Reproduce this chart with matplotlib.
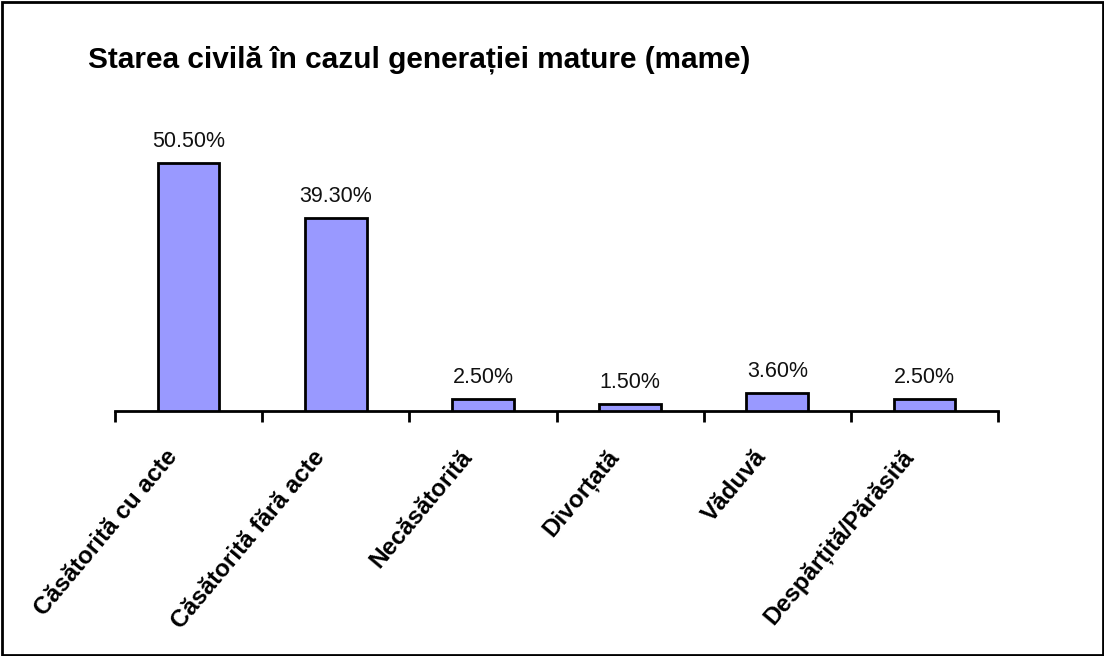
import matplotlib
matplotlib.use("Agg")
import matplotlib.pyplot as plt
from matplotlib.patches import Rectangle
import matplotlib.transforms as mtransforms

categories = ["Căsătorită cu acte", "Căsătorită fără acte", "Necăsătorită",
              "Divorțată", "Văduvă", "Despărțită/Părăsită"]
values = [50.5, 39.3, 2.5, 1.5, 3.6, 2.5]
value_labels = ["50.50%", "39.30%", "2.50%", "1.50%", "3.60%", "2.50%"]
title = "Starea civilă în cazul generației mature (mame)"

plt.rcParams['font.family'] = ['Liberation Sans', 'DejaVu Sans']

W, H = 1104, 656
fig = plt.figure(figsize=(W / 100, H / 100), dpi=100)
fig.patch.set_facecolor("white")

# figure border
fig.add_artist(Rectangle((1.5 / W, 1.5 / H), (W - 3) / W, (H - 3) / H,
                         transform=fig.transFigure, fill=False,
                         edgecolor="black", linewidth=2))

ax_left, ax_right = 115 / W, 998 / W
ax_bottom_px, ax_top_px = 411, 100
ax = fig.add_axes([ax_left, (H - ax_bottom_px) / H, ax_right - ax_left,
                   (ax_bottom_px - ax_top_px) / H])

px_per_unit = (411 - 163) / 50.5
ymax = (ax_bottom_px - ax_top_px) / px_per_unit

x = list(range(len(categories)))
ax.bar(x, values, width=0.42, color="#9999FF", edgecolor="black", linewidth=2, zorder=3)
ax.set_xlim(-0.5, len(categories) - 0.5)
ax.set_ylim(0, ymax)

for s in ["left", "right", "top"]:
    ax.spines[s].set_visible(False)
ax.spines["bottom"].set_linewidth(2)
ax.yaxis.set_visible(False)

ax.set_xticks(x)
ax.set_xticks([i - 0.5 for i in range(len(categories) + 1)], minor=True)
ax.tick_params(axis="x", which="major", length=0, pad=25)
ax.tick_params(axis="x", which="minor", length=8, width=2, direction="out")
ax.set_xticklabels(categories, rotation=50, ha="right", va="top",
                   rotation_mode="anchor", fontsize=17.5, fontweight="bold")
offset = mtransforms.ScaledTranslation(-24 / 100, 0, fig.dpi_scale_trans)
for lbl in ax.get_xticklabels():
    lbl.set_transform(lbl.get_transform() + offset)

for xi, v, t in zip(x, values, value_labels):
    ax.annotate(t, (xi, v), xytext=(0, 8), textcoords="offset points",
                ha="center", va="bottom", fontsize=15.5, color="#111111")

fig.text(88 / W, 1 - 60 / H, title, ha="left", va="center",
         fontsize=21.4, fontweight="bold")

fig.savefig("out.png", dpi=100)
